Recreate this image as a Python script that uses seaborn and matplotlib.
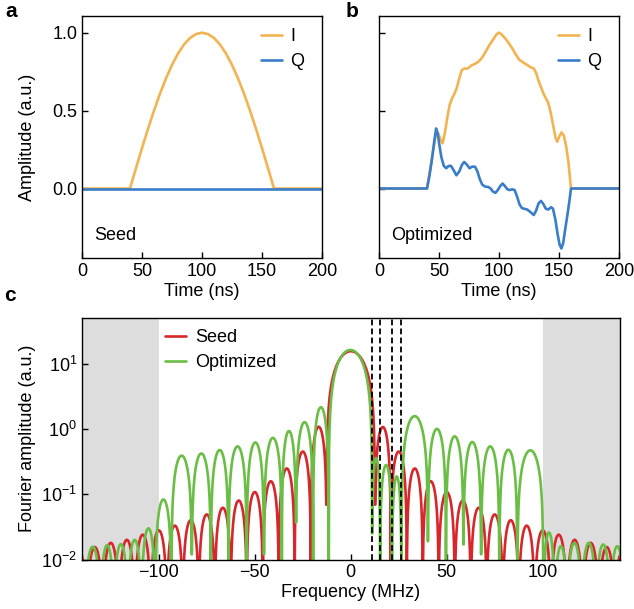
import numpy as np
import pandas as pd
import matplotlib
matplotlib.use("Agg")
import matplotlib.pyplot as plt
from matplotlib.lines import Line2D
import seaborn as sns

# ---------------- pulse envelopes (time in ns, amplitude in a.u.) ----------------
seed_t = [0, 40, 45, 50, 55, 60, 65, 70, 75, 80, 85, 90, 95, 100,
          105, 110, 115, 120, 125, 130, 135, 140, 145, 150, 155, 160, 200]
seed_i = [0.0, 0.0, 0.131, 0.259, 0.383, 0.5, 0.609, 0.707, 0.793, 0.866, 0.924, 0.966, 0.991, 1.0,
          0.991, 0.966, 0.924, 0.866, 0.793, 0.707, 0.609, 0.5, 0.383, 0.259, 0.131, 0.0, 0.0]
seed_q_t = [0, 200]
seed_q = [0.0, 0.0]

opt_i_t = [0, 40, 44, 47, 49, 51, 53, 55, 57, 59, 61, 63, 65, 67, 69, 71, 74, 77, 80, 83, 86,
           89, 92, 95, 98, 100, 102, 105, 108, 111, 114, 117, 120, 123, 126, 129, 131, 133,
           135, 137, 139, 141, 143, 145, 147, 148.5, 150, 152, 154, 156, 158, 160, 200]
opt_i = [0.0, 0.0, 0.19, 0.33, 0.36, 0.32, 0.29, 0.36, 0.46, 0.54, 0.58, 0.61, 0.65, 0.71, 0.76,
         0.77, 0.77, 0.79, 0.80, 0.815, 0.84, 0.88, 0.92, 0.955, 0.99, 1.0, 0.99, 0.965, 0.935,
         0.90, 0.86, 0.825, 0.81, 0.795, 0.78, 0.77, 0.74, 0.69, 0.65, 0.61, 0.58, 0.55, 0.49,
         0.41, 0.33, 0.30, 0.33, 0.36, 0.34, 0.27, 0.16, 0.0, 0.0]

opt_q_t = [0, 40, 42, 44, 46, 47.6, 49, 50.5, 52, 54, 56, 58, 60, 62, 64.5, 67, 69, 71, 73,
           75.5, 77.5, 80, 82, 84, 86, 88.5, 91, 93, 95, 97, 99, 101, 103, 105, 107, 109, 111,
           113, 115, 117, 119, 121, 123.5, 126, 129, 131, 133, 135, 137, 139, 141, 143.5, 145,
           147, 149, 150.5, 152, 153.5, 155, 157, 158.5, 160, 200]
opt_q = [0.0, 0.0, 0.08, 0.18, 0.30, 0.385, 0.35, 0.27, 0.20, 0.145, 0.13, 0.145, 0.145, 0.12,
         0.085, 0.11, 0.15, 0.17, 0.155, 0.13, 0.14, 0.14, 0.11, 0.06, 0.025, 0.012, 0.01, 0.0,
         -0.02, -0.028, -0.01, 0.015, 0.032, 0.015, -0.005, -0.01, -0.005, -0.01, -0.05, -0.10,
         -0.125, -0.13, -0.135, -0.15, -0.17, -0.14, -0.095, -0.08, -0.10, -0.13, -0.135, -0.12,
         -0.13, -0.2, -0.30, -0.36, -0.385, -0.35, -0.27, -0.17, -0.09, 0.0, 0.0]

# ---------------- Fourier spectra: lobe nulls (MHz), lobe peaks, level at each null ----------------
seed_nulls = [-145.8, -137.5, -129.2, -120.8, -112.5, -104.2, -95.8, -87.5, -79.2, -70.8,
              -62.5, -54.2, -45.8, -37.5, -29.2, -20.8, -12.6, 12.6, 20.8, 29.2, 37.5, 45.8,
              54.2, 62.5, 70.8, 79.2, 87.5, 95.8, 104.2, 112.5, 120.8, 129.2, 137.5, 145.8]
seed_peaks = [0.0138, 0.0155, 0.018, 0.020, 0.024, 0.028, 0.033, 0.040, 0.049, 0.062, 0.080,
              0.108, 0.158, 0.248, 0.45, 1.08, 15.5, 1.07, 0.45, 0.248, 0.158, 0.108, 0.080,
              0.062, 0.049, 0.040, 0.033, 0.028, 0.024, 0.020, 0.018, 0.0155, 0.0138]
seed_dips = [1e-4] * 16 + [0.069, 0.069] + [1e-4] * 16

opt_nulls = [-138.5, -130.4, -123.4, -116.1, -109.0, -101.8, -93.4, -82.8, -72.9, -63.7,
             -54.2, -45.2, -35.9, -28.5, -19.6, -11.5, 11.1, 15.3, 21.5, 26.4, 40.2, 49.6,
             58.7, 67.9, 77.4, 86.8, 100.3, 106.2, 112.8, 120.2, 127.8, 135.2, 142.5]
opt_peaks = [0.0157, 0.0166, 0.0172, 0.020, 0.030, 0.083, 0.39, 0.42, 0.475, 0.54, 0.62, 0.73,
             0.93, 1.27, 2.15, 16.2, 0.36, 0.28, 0.187, 1.57, 1.0, 0.77, 0.63, 0.54, 0.48, 0.47,
             0.026, 0.016, 0.018, 0.018, 0.017, 0.016]
opt_dips = [1e-4, 1e-4, 1e-4, 1e-4, 1e-4, 1e-4, 1e-4, 0.012, 1e-4, 1e-4, 1e-4, 0.012, 1e-4,
            0.037, 1e-4, 1e-4, 0.025, 1e-4, 1e-4, 1e-4, 0.019, 1e-4, 0.017, 0.012, 1e-4, 1e-4,
            1e-4, 1e-4, 1e-4, 1e-4, 1e-4, 1e-4, 1e-4]

transition_freqs = [11.1, 15.3, 21.5, 26.4]
stopband = [(-140, -100), (100, 140)]

# ---------------- styling ----------------
C_I, C_Q = "#F2B452", "#3A7DC8"
C_SEED, C_OPT = "#D7272D", "#6BBE45"
LW = 1.9

sns.set_theme(style="ticks")
plt.rcParams.update({
    "font.family": ["Liberation Sans", "DejaVu Sans"],
    "font.size": 13,
    "text.color": "black",
    "axes.labelcolor": "black",
    "xtick.color": "black",
    "ytick.color": "black",
    "axes.linewidth": 1.0,
    "axes.edgecolor": "black",
    "xtick.direction": "in",
    "ytick.direction": "in",
    "xtick.major.size": 4,
    "ytick.major.size": 4,
    "xtick.major.width": 1.0,
    "ytick.major.width": 1.0,
    "xtick.labelsize": 13,
    "ytick.labelsize": 13,
    "axes.labelsize": 13,
    "legend.fontsize": 13,
    "legend.labelcolor": "black",
    "mathtext.fontset": "custom",
    "mathtext.rm": "Liberation Sans",
    "mathtext.it": "Liberation Sans:italic",
})


def lobe_frame(nulls, peaks, dips, name, n=121):
    """Build the spectrum trace lobe by lobe between consecutive nulls."""
    freqs, amps = [], []
    u = np.linspace(0.0, 1.0, n)
    for k, p in enumerate(peaks):
        f = nulls[k] + (nulls[k + 1] - nulls[k]) * u
        floor = np.where(u < 0.5, dips[k], dips[k + 1])
        a = np.maximum(p * np.sin(np.pi * u), floor)
        freqs.append(f)
        amps.append(a)
    return pd.DataFrame({"freq": np.concatenate(freqs),
                         "amp": np.concatenate(amps),
                         "series": name})


W, H = 634, 609
fig = plt.figure(figsize=(W / 100, H / 100), dpi=100)


def rect(x0, y0, x1, y1):
    return [x0 / W, 1 - y1 / H, (x1 - x0) / W, (y1 - y0) / H]


ax_a = fig.add_axes(rect(82, 16, 322, 258))
ax_b = fig.add_axes(rect(379, 16, 619, 258))
ax_c = fig.add_axes(rect(82, 318, 619.5, 559.5))

# ---- panels a and b: pulse envelopes ----
for ax, (ti, vi, tq, vq), tag in [
    (ax_a, (seed_t, seed_i, seed_q_t, seed_q), "Seed"),
    (ax_b, (opt_i_t, opt_i, opt_q_t, opt_q), "Optimized"),
]:
    sns.lineplot(x=ti, y=vi, color=C_I, lw=LW, estimator=None, sort=False, ax=ax, label="I")
    sns.lineplot(x=tq, y=vq, color=C_Q, lw=LW, estimator=None, sort=False, ax=ax, label="Q")
    ax.set_xlim(0, 200)
    ax.set_ylim(-0.446, 1.107)
    ax.set_xticks([0, 50, 100, 150, 200])
    ax.set_yticks([0.0, 0.5, 1.0])
    ax.set_xlabel("Time (ns)", labelpad=2)
    ax.text(0.05, 0.094, tag, transform=ax.transAxes, ha="left", va="center", fontsize=13)
    ax.legend(loc="upper left", bbox_to_anchor=(0.745, 0.95), frameon=False, borderpad=0,
              handlelength=1.15, handletextpad=0.5, labelspacing=0.45, borderaxespad=0)
    for s in ax.spines.values():
        s.set_visible(True)

ax_a.set_yticklabels(["0.0", "0.5", "1.0"])
ax_a.set_ylabel("Amplitude (a.u.)")
ax_a.yaxis.set_label_coords((36 - 82) / 240, 0.5)
ax_b.set_yticklabels([])
ax_b.set_ylabel("")

# ---- panel c: Fourier spectra ----
for lo, hi in stopband:
    ax_c.axvspan(lo, hi, color="#DDDDDD", lw=0, zorder=0)

spec = pd.concat([lobe_frame(seed_nulls, seed_peaks, seed_dips, "Seed"),
                  lobe_frame(opt_nulls, opt_peaks, opt_dips, "Optimized")],
                 ignore_index=True)
sns.lineplot(data=spec, x="freq", y="amp", hue="series", hue_order=["Seed", "Optimized"],
             palette={"Seed": C_SEED, "Optimized": C_OPT}, lw=LW,
             estimator=None, sort=False, legend=False, ax=ax_c)

for f in transition_freqs:
    ax_c.axvline(f, color="black", lw=1.3, ls=(0, (3.2, 1.8)), zorder=5)

ax_c.set_yscale("log")
ax_c.set_xlim(-140, 140)
ax_c.set_ylim(0.01, 50)
ax_c.set_xticks([-100, -50, 0, 50, 100])
ax_c.set_yticks([1e-2, 1e-1, 1e0, 1e1])
ax_c.set_yticklabels([r"$10^{-2}$", r"$10^{-1}$", r"$10^{0}$", r"$10^{1}$"])
ax_c.yaxis.set_minor_locator(matplotlib.ticker.NullLocator())
ax_c.set_xlabel("Frequency (MHz)", labelpad=2)
ax_c.set_ylabel("Fourier amplitude (a.u.)")
ax_c.yaxis.set_label_coords((36 - 82) / 537.5, 0.5)
handles = [Line2D([], [], color=C_SEED, lw=LW), Line2D([], [], color=C_OPT, lw=LW)]
ax_c.legend(handles, ["Seed", "Optimized"], loc="upper left", bbox_to_anchor=(0.155, 0.955),
            frameon=False, borderpad=0, handlelength=1.15, handletextpad=0.5,
            labelspacing=0.45, borderaxespad=0)

for ax in (ax_a, ax_b, ax_c):
    ax.tick_params(top=False, right=False)

# panel letters
fig.text(5 / W, 1 - 2 / H, "a", fontsize=15, fontweight="bold", ha="left", va="top")
fig.text(346 / W, 1 - 2 / H, "b", fontsize=15, fontweight="bold", ha="left", va="top")
fig.text(4 / W, 1 - 286 / H, "c", fontsize=15, fontweight="bold", ha="left", va="top")

fig.savefig("out.png", dpi=100)
